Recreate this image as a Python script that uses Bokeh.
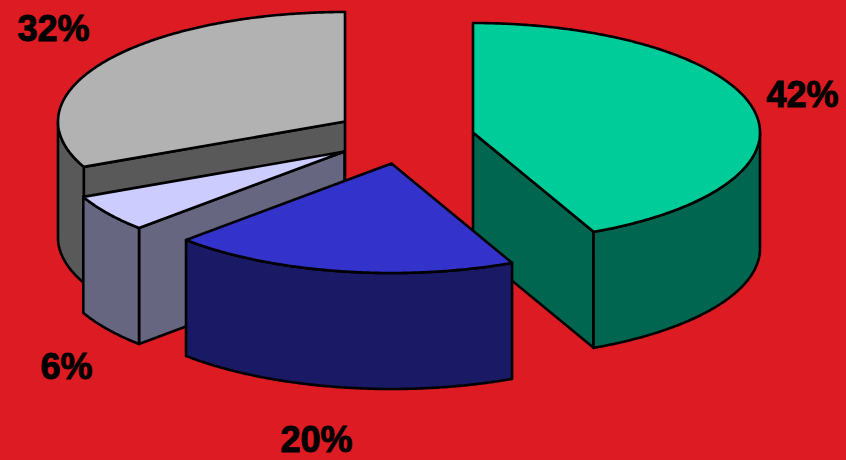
import numpy as np
from bokeh.core.properties import value
from bokeh.embed import file_html
from bokeh.models import GlobalInlineStyleSheet, Range1d
from bokeh.plotting import figure
from bokeh.resources import INLINE

# Counter-clockwise from the top of the pie; sweeps
names = ["gray", "white", "green", "blue"]
shares = {"gray": 31.8, "white": 5.5, "blue": 19.6, "green": 43.1}
labels = {"gray": "32%", "white": "6%", "blue": "20%", "green": "42%"}
top_colors = {"gray": "#B2B2B2", "white": "#CCCCFF", "blue": "#3333CC", "green": "#00CC99"}
wall_colors = {"gray": "#595959", "white": "#666680", "blue": "#191966", "green": "#006650"}
sweep_order = ["gray", "white", "blue", "green"]

BG = "#DC1C22"
WIDTH, HEIGHT = 846, 460
RX, RY, DEPTH = 287, 109.5, 116
# Exploded centre of each slice on the page
centers = {"gray": (344.5, 121), "white": (344, 151), "blue": (391, 163), "green": (472.5, 132)}
label_pos = {"gray": (53, 28), "white": (66, 366), "blue": (316, 439), "green": (802, 94)}

p = figure(width=WIDTH, height=HEIGHT, output_backend="svg", toolbar_location=None,
           x_range=Range1d(0, WIDTH), y_range=Range1d(HEIGHT, 0),
           min_border=0, outline_line_color=None,
           background_fill_color=BG, border_fill_color=BG)
p.axis.visible = False
p.grid.visible = False
p.stylesheets = [GlobalInlineStyleSheet(css=f"html,body{{margin:0;padding:0;background:{BG};overflow:hidden}}")]


def arc(cx, cy, a0, a1, dy=0.0):
    t = np.radians(np.linspace(a0, a1, max(int(abs(a1 - a0)) * 2, 2)))
    return cx + RX * np.cos(t), cy - RY * np.sin(t) + dy


def face(xs, ys, color):
    p.patch(list(xs), list(ys), fill_color=color, line_color="black", line_width=2.6,
            line_join="round")


total = sum(shares.values())
angle = 90.0
spans = {}
for n in sweep_order:
    spans[n] = (angle, angle + shares[n] / total * 360.0)
    angle = spans[n][1]

# Painted back to front: the blue slice overlaps the green one
for n in names:
    a0, a1 = spans[n]
    cx, cy = centers[n]
    top, wall = top_colors[n], wall_colors[n]

    # cut faces that turn towards the viewer
    if n in ("gray", "white"):
        xe, ye = arc(cx, cy, a1, a1)
        face([cx, xe[0], xe[0], cx], [cy, ye[0], ye[0] + DEPTH, cy + DEPTH], wall)
    if n == "green":
        xe, ye = arc(cx, cy, a0, a0)
        face([cx, xe[0], xe[0], cx], [cy, ye[0], ye[0] + DEPTH, cy + DEPTH], wall)

    # outer wall: only the rim portion that faces the viewer (180..360 degrees)
    lo, hi = max(a0, 180.0), min(a1, 360.0)
    if hi > lo:
        xa, ya = arc(cx, cy, lo, hi)
        xb, yb = arc(cx, cy, hi, lo, DEPTH)
        face(np.r_[xa, xb], np.r_[ya, yb], wall)

    # top face
    xt, yt = arc(cx, cy, a0, a1)
    face(np.r_[cx, xt], np.r_[cy, yt], top)

for n in sweep_order:
    x, y = label_pos[n]
    p.text([x], [y], text=[labels[n]], text_align="center", text_baseline="middle",
           text_font=value("Liberation Sans"), text_font_style="bold",
           text_font_size="36px", text_color="black",
           text_outline_color="black")

open("out.html", "w").write(file_html(p, INLINE))
